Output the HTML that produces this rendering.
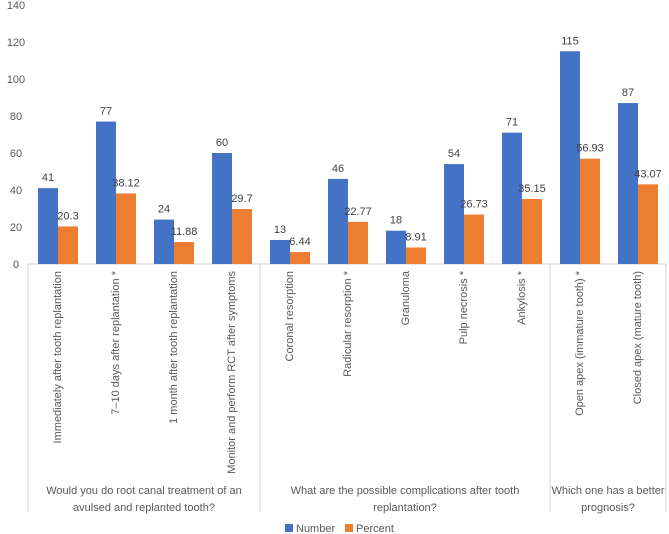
<!DOCTYPE html>
<html><head><meta charset="utf-8"><style>
body{margin:0;background:#fff;}
svg{display:block;font-family:"Liberation Sans",sans-serif;}
</style></head><body>
<svg id="c" width="669" height="534"></svg>
<script>
const categories=["Immediately after tooth replantation","7–10 days after replantation *","1 month after tooth replantation","Monitor and perform RCT after symptoms","Coronal resorption","Radicular resorption *","Granuloma","Pulp necrosis *","Ankylosis *","Open apex (immature tooth) *","Closed apex (mature tooth)"];
const numberVals=[41,77,24,60,13,46,18,54,71,115,87];
const percentVals=[20.3,38.12,11.88,29.7,6.44,22.77,8.91,26.73,35.15,56.93,43.07];
const yTicks=[0,20,40,60,80,100,120,140];
const groups=[{lines:["Would you do root canal treatment of an","avulsed and replanted tooth?"],start:0,end:4},{lines:["What are the possible complications after tooth","replantation?"],start:4,end:9},{lines:["Which one has a better","prognosis?"],start:9,end:11}];
const NS="http://www.w3.org/2000/svg";
const svg=document.getElementById('c');
const x0=28,cw=58,y0=264,k=1.85;
const yS=v=>y0-v*k;
const xS=i=>x0+i*cw;
function el(t,a,txt){const e=document.createElementNS(NS,t);for(const p in a)e.setAttribute(p,a[p]);if(txt!=null)e.textContent=txt;svg.appendChild(e);return e;}
yTicks.forEach(v=>{const t=el('text',{x:16,y:yS(v)+4,'text-anchor':'middle','font-size':11,fill:'#595959'},v);

});
const ax=el('line',{x1:x0,x2:666,y1:y0,y2:y0,stroke:'#d0d0d0'});


[0,4,9,11].forEach(i=>{const l=el('line',{x1:xS(i),x2:xS(i),y1:y0,y2:512,stroke:'#d0d0d0'});

});
categories.forEach((c,i)=>{
 const bx=xS(i)+10;
 const b=el('rect',{x:bx,y:yS(numberVals[i]),width:20,height:numberVals[i]*k,fill:'#4472C4'});
 
 
 const o=el('rect',{x:bx+20,y:yS(percentVals[i]),width:20,height:percentVals[i]*k,fill:'#ED7D31'});
 
 
 const t1=el('text',{x:bx+10,y:yS(numberVals[i])-7,'text-anchor':'middle','font-size':11,fill:'#404040'},numberVals[i]);
 
 
 const t2=el('text',{x:bx+30,y:yS(percentVals[i])-7,'text-anchor':'middle','font-size':11,fill:'#404040'},percentVals[i]);
 
 
 const cx=xS(i)+cw/2+4;
 const cl=el('text',{x:0,y:0,transform:`translate(${cx},271) rotate(-90)`,'text-anchor':'end','font-size':11,fill:'#595959'},c);
 
 
});
groups.forEach(g=>{const cx=(xS(g.start)+xS(g.end))/2;
 g.lines.forEach((ln,j)=>{const t=el('text',{x:cx,y:494+j*17,'text-anchor':'middle','font-size':11,fill:'#595959'},ln);
 
 });});
const l1=el('rect',{x:285,y:524,width:8,height:8,fill:'#4472C4'});


const l2=el('text',{x:296,y:532,'font-size':11,fill:'#595959'},'Number');


const l3=el('rect',{x:345,y:524,width:8,height:8,fill:'#ED7D31'});


const l4=el('text',{x:356,y:532,'font-size':11,fill:'#595959'},'Percent');


</script>
</body></html>
